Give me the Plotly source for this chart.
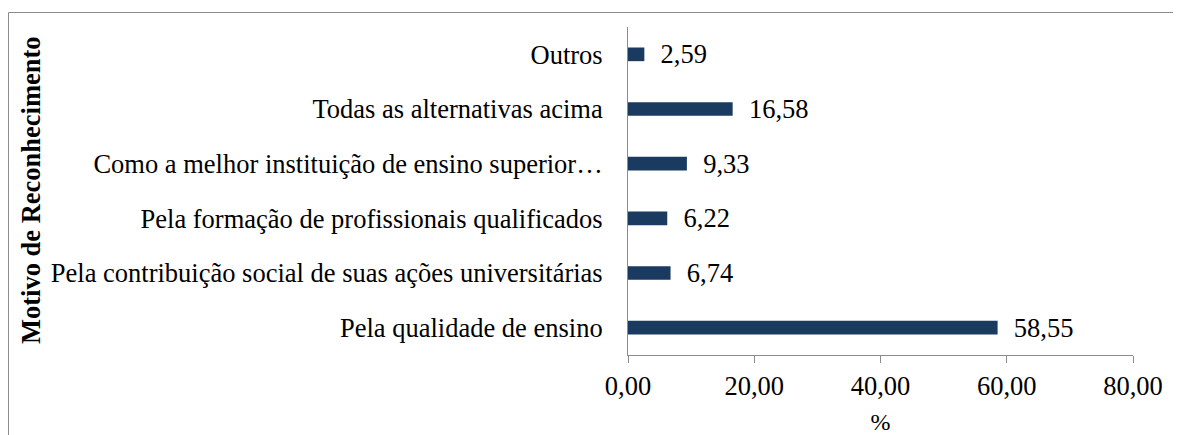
import plotly.graph_objects as go

categories = [
    "Pela qualidade de ensino",
    "Pela contribuição social de suas ações universitárias",
    "Pela formação de profissionais qualificados",
    "Como a melhor instituição de ensino superior…",
    "Todas as alternativas acima",
    "Outros",
]
values = [58.55, 6.74, 6.22, 9.33, 16.58, 2.59]
x_ticks = [0, 20, 40, 60, 80]

# page has an 8px body margin, so lay out in a 1173x427 canvas
OFF = 8
W, H = 1181 - OFF, 435 - OFF
L, T = 628 - OFF, 27 - OFF
R = W - (1133 - OFF)
B = H - (355 - OFF)
pw, ph = W - L - R, H - T - B

def px(xs):
    return (xs - OFF - L) / pw

def py(ys):
    return 1 - (ys - OFF - T) / ph

SERIF = "Times New Roman, Liberation Serif, serif"
FS = 26.5

fig = go.Figure(go.Bar(
    y=categories, x=values, orientation="h",
    marker=dict(color="#1B3A60", line=dict(width=0)),
    width=0.25,
    texttemplate="\u00a0\u00a0%{x:.2f}", textposition="outside",
    constraintext="none",
    textfont=dict(family=SERIF, size=FS, color="black"),
    cliponaxis=False,
))

fig.update_layout(
    width=W, height=H,
    margin=dict(l=L, r=R, t=T, b=B, autoexpand=False),
    paper_bgcolor="white", plot_bgcolor="white",
    separators=",.",
    font=dict(family=SERIF, size=FS, color="black"),
    showlegend=False,
    xaxis=dict(
        range=[0, 80], tickvals=x_ticks, tickformat=".2f",
        showgrid=False, zeroline=False,
        showline=True, linecolor="#8C8C8C", linewidth=1,
        ticks="outside", ticklen=7, tickcolor="#8C8C8C",
        tickfont=dict(family=SERIF, size=FS, color="black"),
        title=dict(text="%", font=dict(family=SERIF, size=24, color="black"), standoff=16),
    ),
    yaxis=dict(
        showgrid=False, zeroline=False,
        showline=True, linecolor="#8C8C8C", linewidth=1,
        ticks="", ticklabelstandoff=19,
        tickfont=dict(family=SERIF, size=FS, color="black"),
    ),
    annotations=[dict(
        text="<b>Motivo de Reconhecimento</b>", textangle=-90,
        xref="paper", yref="paper", x=px(31), y=py(190),
        showarrow=False, font=dict(size=FS, family=SERIF, color="black"),
        xanchor="center", yanchor="middle",
    )],
    shapes=[dict(
        type="rect", xref="paper", yref="paper",
        x0=px(8.5), y0=py(460), x1=px(1200), y1=py(12.5),
        line=dict(color="#8C8C8C", width=1), layer="below",
    )],
)

fig.write_html("out.html")
